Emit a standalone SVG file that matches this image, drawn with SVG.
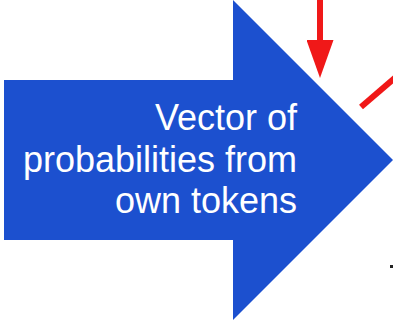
<svg xmlns="http://www.w3.org/2000/svg" width="393" height="321" viewBox="0 0 393 321">
  <style>
    .block { fill: #1c50cf; }
    .label { font-family: "Liberation Sans", Arial, sans-serif; font-size: 36px; fill: #ffffff; text-anchor: end; }
    .link { stroke: #f01818; stroke-width: 6; fill: none; }
  </style>
  <defs>
    <marker id="redHead" viewBox="0 0 38 27" refX="0" refY="13.5" markerWidth="38" markerHeight="27" markerUnits="userSpaceOnUse" orient="auto">
      <path d="M0,0 L38,13.5 L0,27 z" fill="#f01818"/>
    </marker>
  </defs>

  <rect width="393" height="321" fill="#ffffff"/>

  <!-- big block arrow with its caption -->
  <g id="own-tokens">
    <polygon class="block" points="4,80 233,80 233,0 393,160 233,320 233,240 4,240"/>
    <text class="label" x="297" y="130">Vector of</text>
    <text class="label" x="297" y="171.5">probabilities from</text>
    <text class="label" x="297" y="213">own tokens</text>
  </g>

  <!-- incoming red connectors -->
  <g id="connectors">
    <line class="link" x1="320" y1="-2" x2="320" y2="40" marker-end="url(#redHead)"/>
    <line class="link" x1="361" y1="107" x2="396" y2="77"/>
  </g>

  <!-- small dark mark at the lower right -->
  <rect x="390" y="265" width="3" height="3" fill="#222222"/>
</svg>
